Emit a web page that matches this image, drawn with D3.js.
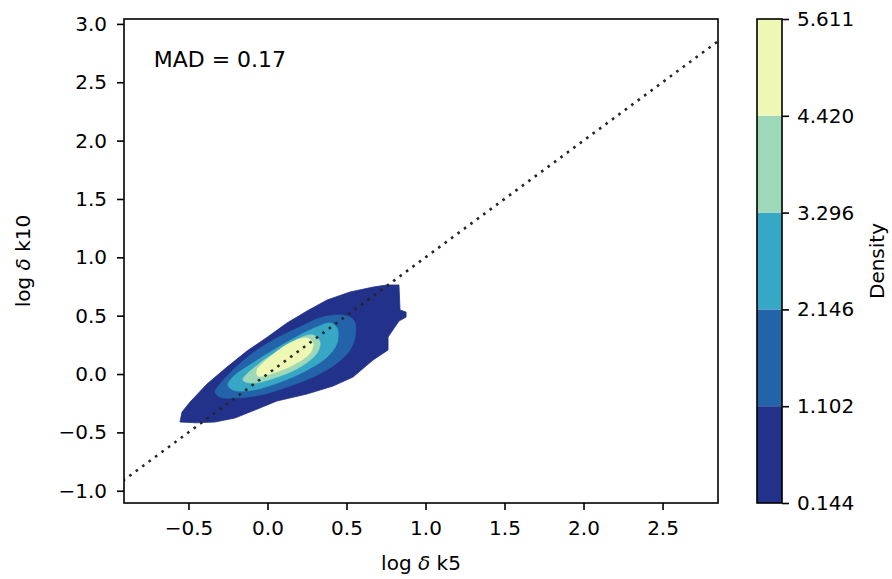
<!DOCTYPE html>
<html>
<head>
<meta charset="utf-8">
<script src="https://cdn.jsdelivr.net/npm/d3@7"></script>
<style>
  body { margin: 0; background: #fff; }
  text { font-family: "DejaVu Sans", sans-serif; fill: #000; }
</style>
</head>
<body>
<svg id="chart" width="892" height="579"></svg>
<script>
// axis ticks
const xTicks = [-0.5, 0, 0.5, 1, 1.5, 2, 2.5];
const yTicks = [-1, -0.5, 0, 0.5, 1, 1.5, 2, 2.5, 3];
const xLimits = [-0.908, 2.851];
const yLimits = [-1.105, 3.042];

// contour levels of the density + colours
const levels = ["0.144", "1.102", "2.146", "3.296", "4.420", "5.611"];
const levelColors = ["#22318a", "#2263a9", "#36a8c5", "#9dd8b9", "#eef8b4"];

// filled contours, [log d k5, log d k10], outermost first
const band1 = [
  [-0.554, -0.411], [-0.541, -0.326], [-0.49, -0.24], [-0.383, -0.086], [-0.256, 0.06],
  [-0.13, 0.197], [0.0, 0.317], [0.123, 0.437], [0.25, 0.54], [0.377, 0.634],
  [0.522, 0.703], [0.668, 0.745], [0.756, 0.763], [0.832, 0.763], [0.839, 0.548],
  [0.877, 0.531], [0.877, 0.488], [0.832, 0.454], [0.763, 0.317], [0.763, 0.206],
  [0.668, 0.12], [0.541, -0.026], [0.415, -0.103], [0.25, -0.171], [0.06, -0.231],
  [-0.079, -0.308], [-0.206, -0.377], [-0.332, -0.411], [-0.45, -0.418]
];
const band2 = [
  [-0.332, -0.154], [-0.32, -0.12], [-0.237, 0.009], [-0.092, 0.18], [0.06, 0.308],
  [0.206, 0.403], [0.332, 0.48], [0.44, 0.506], [0.522, 0.488], [0.554, 0.437],
  [0.554, 0.317], [0.522, 0.206], [0.44, 0.094], [0.288, -0.026], [0.123, -0.111],
  [-0.047, -0.18], [-0.218, -0.206], [-0.301, -0.197]
];
const band3 = [
  [-0.25, -0.094], [-0.218, -0.026], [-0.092, 0.094], [0.06, 0.223], [0.206, 0.334],
  [0.313, 0.403], [0.396, 0.437], [0.44, 0.394], [0.44, 0.266], [0.377, 0.146],
  [0.25, 0.034], [0.079, -0.069], [-0.092, -0.137], [-0.218, -0.137]
];
const band4 = [
  [-0.155, -0.051], [-0.047, 0.094], [0.079, 0.206], [0.206, 0.308], [0.288, 0.334],
  [0.332, 0.274], [0.313, 0.18], [0.206, 0.06], [0.06, -0.026], [-0.092, -0.077]
];
const band5 = [
  [-0.066, 0.034], [0.016, 0.146], [0.142, 0.266], [0.25, 0.308], [0.288, 0.266],
  [0.269, 0.18], [0.161, 0.077], [0.035, 0.009], [-0.06, -0.017]
];
const bands = [band1, band2, band3, band4, band5];

// 1:1 reference line
const diagonal = [[-1.2, -1.2], [3.2, 3.2]];
const madText = "MAD = 0.17";

const margin = { top: 19, right: 174, bottom: 76, left: 124 },
  width = 892 - margin.left - margin.right,
  height = 579 - margin.top - margin.bottom;

const svg = d3.select("#chart");
const g = svg.append("g").attr("transform", `translate(${margin.left}, ${margin.top})`);

const x = d3.scaleLinear().domain(xLimits).range([0, width]);
const y = d3.scaleLinear().domain(yLimits).range([height, 0]);

const fmt = (d) => (d < 0 ? "\u2212" : "") + Math.abs(d).toFixed(1);

g.append("clipPath").attr("id", "clip")
  .append("rect").attr("width", width).attr("height", height);

const plot = g.append("g").attr("clip-path", "url(#clip)");

bands.forEach((b, i) => {
  const line = d3.line()
    .x((d) => x(d[0]))
    .y((d) => y(d[1]))
    .curve(i === 0 ? d3.curveLinearClosed : d3.curveCatmullRomClosed);
  plot.append("path")
    .attr("d", line(b))
    .attr("fill", levelColors[i])
    .attr("stroke", levelColors[i])
    .attr("stroke-width", 0.8);
});

plot.append("path")
  .attr("d", d3.line().x((d) => x(d[0])).y((d) => y(d[1]))(diagonal))
  .attr("fill", "none")
  .attr("stroke", "#262626")
  .attr("stroke-width", 2.6)
  .attr("stroke-dasharray", "2.6,5.4");

// axes
const xAxis = g.append("g")
  .attr("transform", `translate(0, ${height})`)
  .call(d3.axisBottom(x).tickValues(xTicks).tickFormat(fmt).tickSize(7).tickPadding(11));
const yAxis = g.append("g")
  .call(d3.axisLeft(y).tickValues(yTicks).tickFormat(fmt).tickSize(7).tickPadding(10));

[xAxis, yAxis].forEach((a) => {
  a.select(".domain").remove();
  a.selectAll("line").attr("stroke", "#000").attr("stroke-width", 1.6);
  a.selectAll("text").attr("font-size", 20).attr("font-family", "DejaVu Sans").attr("fill", "#000");
});

g.append("rect")
  .attr("width", width).attr("height", height)
  .attr("fill", "none").attr("stroke", "#000").attr("stroke-width", 1.6);

g.append("text")
  .attr("x", 0.05 * width)
  .attr("y", height - 0.9 * height)
  .attr("font-size", 22)
  .text(madText);

// axis labels
const xl = g.append("text")
  .attr("x", width / 2)
  .attr("y", height + 67)
  .attr("text-anchor", "middle")
  .attr("font-size", 20);
xl.append("tspan").text("log ");
xl.append("tspan").attr("font-style", "italic").text("\u03b4");
xl.append("tspan").text(" k5");

const yl = g.append("text")
  .attr("transform", `translate(${30 - margin.left}, ${height / 2}) rotate(-90)`)
  .attr("text-anchor", "middle")
  .attr("font-size", 20);
yl.append("tspan").text("log ");
yl.append("tspan").attr("font-style", "italic").text("\u03b4");
yl.append("tspan").text(" k10");

// colorbar
const cbX = 757, cbW = 25;
const cb = svg.append("g").attr("transform", `translate(${cbX}, ${margin.top})`);
const cy = d3.scaleLinear().domain([0, levels.length - 1]).range([height, 0]);

levelColors.forEach((c, i) => {
  cb.append("rect")
    .attr("x", 0)
    .attr("y", cy(i + 1))
    .attr("width", cbW)
    .attr("height", cy(i) - cy(i + 1))
    .attr("fill", c);
});
cb.append("rect")
  .attr("width", cbW).attr("height", height)
  .attr("fill", "none").attr("stroke", "#000").attr("stroke-width", 1.6);

const cAxis = cb.append("g")
  .attr("transform", `translate(${cbW}, 0)`)
  .call(d3.axisRight(cy).tickValues(d3.range(levels.length)).tickFormat((i) => levels[i]).tickSize(7).tickPadding(8));
cAxis.select(".domain").remove();
cAxis.selectAll("line").attr("stroke", "#000").attr("stroke-width", 1.6);
cAxis.selectAll("text").attr("font-size", 20).attr("font-family", "DejaVu Sans").attr("fill", "#000");

svg.append("text")
  .attr("transform", `translate(884, ${margin.top + height / 2}) rotate(-90)`)
  .attr("text-anchor", "middle")
  .attr("font-size", 20)
  .text("Density");
</script>
</body>
</html>
